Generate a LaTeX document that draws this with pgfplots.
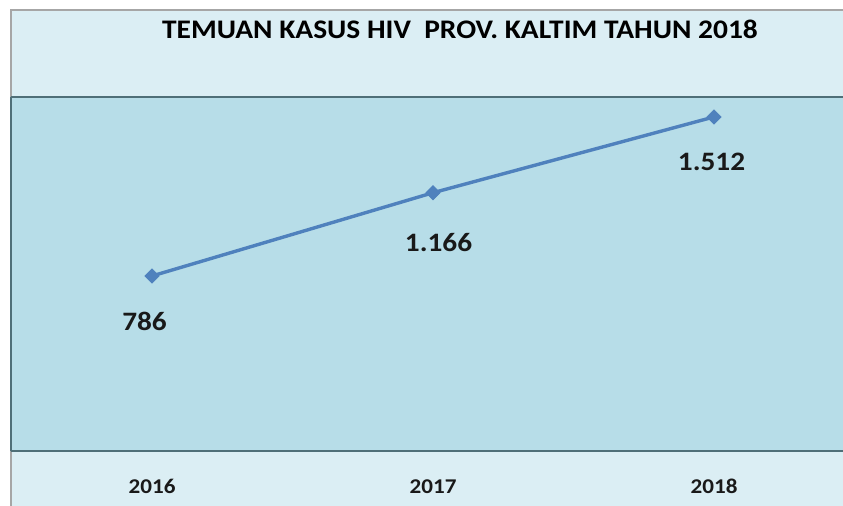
\documentclass[border=0pt]{standalone}
\usepackage{fontspec}
\setmainfont[FakeStretch=1.1]{Carlito}
\usepackage{pgfplots}
\usepackage{pgfplotstable}
\pgfplotsset{compat=1.18}
\definecolor{outerbg}{HTML}{DBEEF4}
\definecolor{plotbg}{HTML}{B7DDE8}
\definecolor{linec}{HTML}{4F81BD}
\definecolor{framec}{HTML}{A6A6A6}
\definecolor{plotframe}{HTML}{4F6F78}
\pgfplotstableread{
year value label dx dy
2016 786 786 -3.75 -22.5
2017 1166 1.166 2.75 -25
2018 1512 1.512 -1.25 -22.25
}\hivdata
\begin{document}
\begin{tikzpicture}
\useasboundingbox (0,0) rectangle (421.5pt,253pt);
\fill[white] (0,0) rectangle (421.5pt,253pt);
\fill[outerbg] (5.5pt,0) rectangle (421.5pt,248pt);
\draw[framec, line width=0.9pt] (5.5pt,0pt) -- (5.5pt,248pt) -- (421.5pt,248pt);
\node[font=\bfseries\fontsize{13.4}{15}\selectfont, anchor=base, inner sep=0pt] at (230pt,233.85pt) {TEMUAN KASUS HIV\ \ PROV. KALTIM TAHUN 2018};
\begin{axis}[
  at={(5.5pt,27.5pt)}, anchor=south west,
  scale only axis, width=416pt, height=177pt,
  xmin=2015.498, xmax=2018.459,
  ymin=-13, ymax=1603,
  axis background/.style={fill=plotbg},
  axis x line*=box, axis y line*=left,
  axis line style={draw=plotframe, line width=0.7pt},
  xtick={2016,2017,2018},
  xticklabels={2016,2017,2018},
  ytick=\empty,
  major tick length=0pt,
  xticklabel style={font=\bfseries\fontsize{10.5}{12}\selectfont, anchor=base, yshift=-21.5pt, text=black!90},
  clip=false,
]
\addplot[linec, line width=1.7pt, mark=square*, mark size=2.5pt,
  mark options={fill=linec, draw=linec, line width=0.4pt, rotate=45},
  point meta=explicit symbolic,
  visualization depends on={\thisrow{dx} \as \dx},
  visualization depends on={\thisrow{dy} \as \dy},
  nodes near coords,
  nodes near coords style={anchor=center, xshift=\dx pt, yshift=\dy pt,
    font=\bfseries\fontsize{13.3}{15}\selectfont, text=black!90},
] table[x=year, y=value, meta=label] {\hivdata};
\end{axis}
\end{tikzpicture}
\end{document}
